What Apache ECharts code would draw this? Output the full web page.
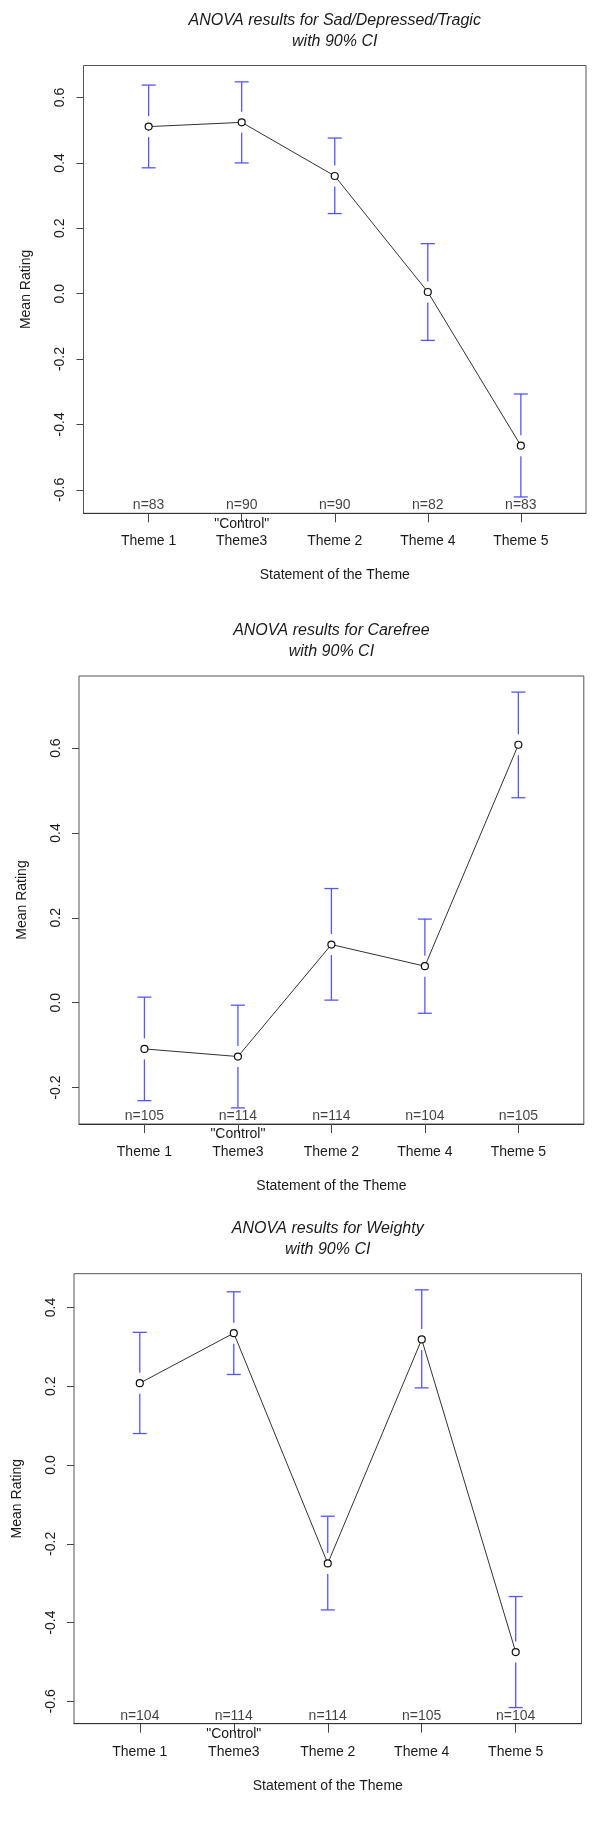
<!DOCTYPE html>
<html>
<head>
<meta charset="utf-8">
<script src="https://cdn.jsdelivr.net/npm/echarts@6/dist/echarts.min.js"></script>
<style>
html,body{margin:0;padding:0;background:#fff;}
#chart{width:600px;height:1821px;}
</style>
</head>
<body>
<div id="chart"></div>
<script>
// ---- data ----
const categories = ['Theme 1', '"Control"\nTheme3', 'Theme 2', 'Theme 4', 'Theme 5'];
const catPositions = [1, 2, 3, 4, 5];
const yTickValues = [-0.6, -0.4, -0.2, 0.0, 0.2, 0.4, 0.6];

const titles = [
  'ANOVA results for Sad/Depressed/Tragic\nwith 90% CI',
  'ANOVA results for Carefree\nwith 90% CI',
  'ANOVA results for Weighty\nwith 90% CI'
];

const sadMeans = [0.511, 0.524, 0.360, 0.005, -0.465];
const sadLower = [0.385, 0.400, 0.245, -0.143, -0.622];
const sadUpper = [0.638, 0.648, 0.476, 0.153, -0.307];
const sadN = [83, 90, 90, 82, 83];

const carefreeMeans = [-0.109, -0.127, 0.137, 0.086, 0.608];
const carefreeLower = [-0.231, -0.248, 0.006, -0.025, 0.483];
const carefreeUpper = [0.013, -0.006, 0.269, 0.197, 0.732];
const carefreeN = [105, 114, 114, 104, 105];

const weightyMeans = [0.208, 0.335, -0.250, 0.319, -0.475];
const weightyLower = [0.080, 0.230, -0.368, 0.196, -0.616];
const weightyUpper = [0.337, 0.440, -0.130, 0.445, -0.334];
const weightyN = [104, 114, 114, 105, 104];

const yRanges = [[-0.672, 0.698], [-0.286, 0.770], [-0.657, 0.486]];
const xRange = [0.3, 5.7];

// ---- layout ----
const grids = [
  {left: 83.5, top: 65.5, width: 502.5, height: 447.8},
  {left: 79, top: 676, width: 504.8, height: 448},
  {left: 74, top: 1273.7, width: 507.5, height: 450}
];

const panels = [
  {means: sadMeans, lower: sadLower, upper: sadUpper, n: sadN},
  {means: carefreeMeans, lower: carefreeLower, upper: carefreeUpper, n: carefreeN},
  {means: weightyMeans, lower: weightyLower, upper: weightyUpper, n: weightyN}
];

const FONT = '"Liberation Sans", Arial, Helvetica, sans-serif';
const TEXT = '#1a1a1a';
const BAR = '#5555ff';

const option = {
  animation: false,
  backgroundColor: '#fff',
  textStyle: {fontFamily: FONT},
  title: [],
  grid: [],
  xAxis: [],
  yAxis: [],
  series: []
};

panels.forEach((p, i) => {
  const g = grids[i];
  option.title.push({
    text: titles[i],
    left: g.left + g.width / 2,
    top: g.top - 55.5,
    textAlign: 'center',
    padding: 0,
    textStyle: {fontFamily: FONT, fontSize: 16, fontStyle: 'italic', fontWeight: 'normal', color: TEXT, lineHeight: 21}
  });
  option.grid.push({
    left: g.left, top: g.top, width: g.width, height: g.height,
    show: true, borderColor: '#555', borderWidth: 1, backgroundColor: 'transparent',
    containLabel: false
  });
  option.xAxis.push({
    type: 'value', gridIndex: i, min: xRange[0], max: xRange[1],
    position: 'bottom',
    name: 'Statement of the Theme', nameLocation: 'middle', nameGap: 55,
    nameTextStyle: {fontFamily: FONT, fontSize: 14, color: TEXT},
    axisLine: {show: true, onZero: false, lineStyle: {color: '#333', width: 1}},
    axisTick: {show: true, customValues: catPositions, length: 9, lineStyle: {color: '#444'}},
    axisLabel: {
      show: true, customValues: catPositions,
      formatter: v => categories[Math.round(v) - 1],
      fontFamily: FONT, fontSize: 14, color: TEXT,
      verticalAlign: 'bottom', lineHeight: 17.7, margin: 37
    },
    splitLine: {show: false}
  });
  option.yAxis.push({
    type: 'value', gridIndex: i, min: yRanges[i][0], max: yRanges[i][1],
    name: 'Mean Rating', nameLocation: 'middle', nameGap: 50,
    nameTextStyle: {fontFamily: FONT, fontSize: 14, color: TEXT},
    axisLine: {show: false, onZero: false},
    axisTick: {show: true, customValues: yTickValues, length: 7, lineStyle: {color: '#444'}},
    axisLabel: {
      show: true, customValues: yTickValues, rotate: 90, margin: 16,
      formatter: v => Number(v).toFixed(1),
      fontFamily: FONT, fontSize: 14, color: TEXT
    },
    splitLine: {show: false}
  });

  // error bars
  option.series.push({
    type: 'custom', xAxisIndex: i, yAxisIndex: i, z: 2,
    data: catPositions.map((x, k) => [x, p.lower[k], p.upper[k], p.means[k]]),
    renderItem: function (params, api) {
      const x = api.value(0), lo = api.value(1), hi = api.value(2), m = api.value(3);
      const pLo = api.coord([x, lo]);
      const pHi = api.coord([x, hi]);
      const pM = api.coord([x, m]);
      const gap = 10.5, cap = 7;
      const style = {stroke: BAR, lineWidth: 1.3, fill: null};
      return {
        type: 'group',
        children: [
          {type: 'line', shape: {x1: pHi[0], y1: pHi[1], x2: pM[0], y2: pM[1] - gap}, style: style},
          {type: 'line', shape: {x1: pM[0], y1: pM[1] + gap, x2: pLo[0], y2: pLo[1]}, style: style},
          {type: 'line', shape: {x1: pHi[0] - cap, y1: pHi[1], x2: pHi[0] + cap, y2: pHi[1]}, style: style},
          {type: 'line', shape: {x1: pLo[0] - cap, y1: pLo[1], x2: pLo[0] + cap, y2: pLo[1]}, style: style}
        ]
      };
    }
  });

  // means line with open circles
  option.series.push({
    type: 'line', xAxisIndex: i, yAxisIndex: i, z: 3,
    data: catPositions.map((x, k) => [x, p.means[k]]),
    symbol: 'circle', symbolSize: 7, showAllSymbol: true,
    itemStyle: {color: '#fff', borderColor: '#111', borderWidth: 1.2},
    lineStyle: {color: '#333', width: 1}
  });

  // n labels
  option.series.push({
    type: 'scatter', xAxisIndex: i, yAxisIndex: i, z: 4,
    data: catPositions.map((x, k) => [x, yRanges[i][0]]),
    symbolSize: 0, silent: true, clip: false,
    label: {
      show: true, position: 'top', distance: 1,
      formatter: prm => 'n=' + p.n[prm.dataIndex],
      fontFamily: FONT, fontSize: 14, color: '#111'
    }
  });
});

const chart = echarts.init(document.getElementById('chart'), null, {renderer: 'canvas'});
chart.setOption(option);
</script>
</body>
</html>
